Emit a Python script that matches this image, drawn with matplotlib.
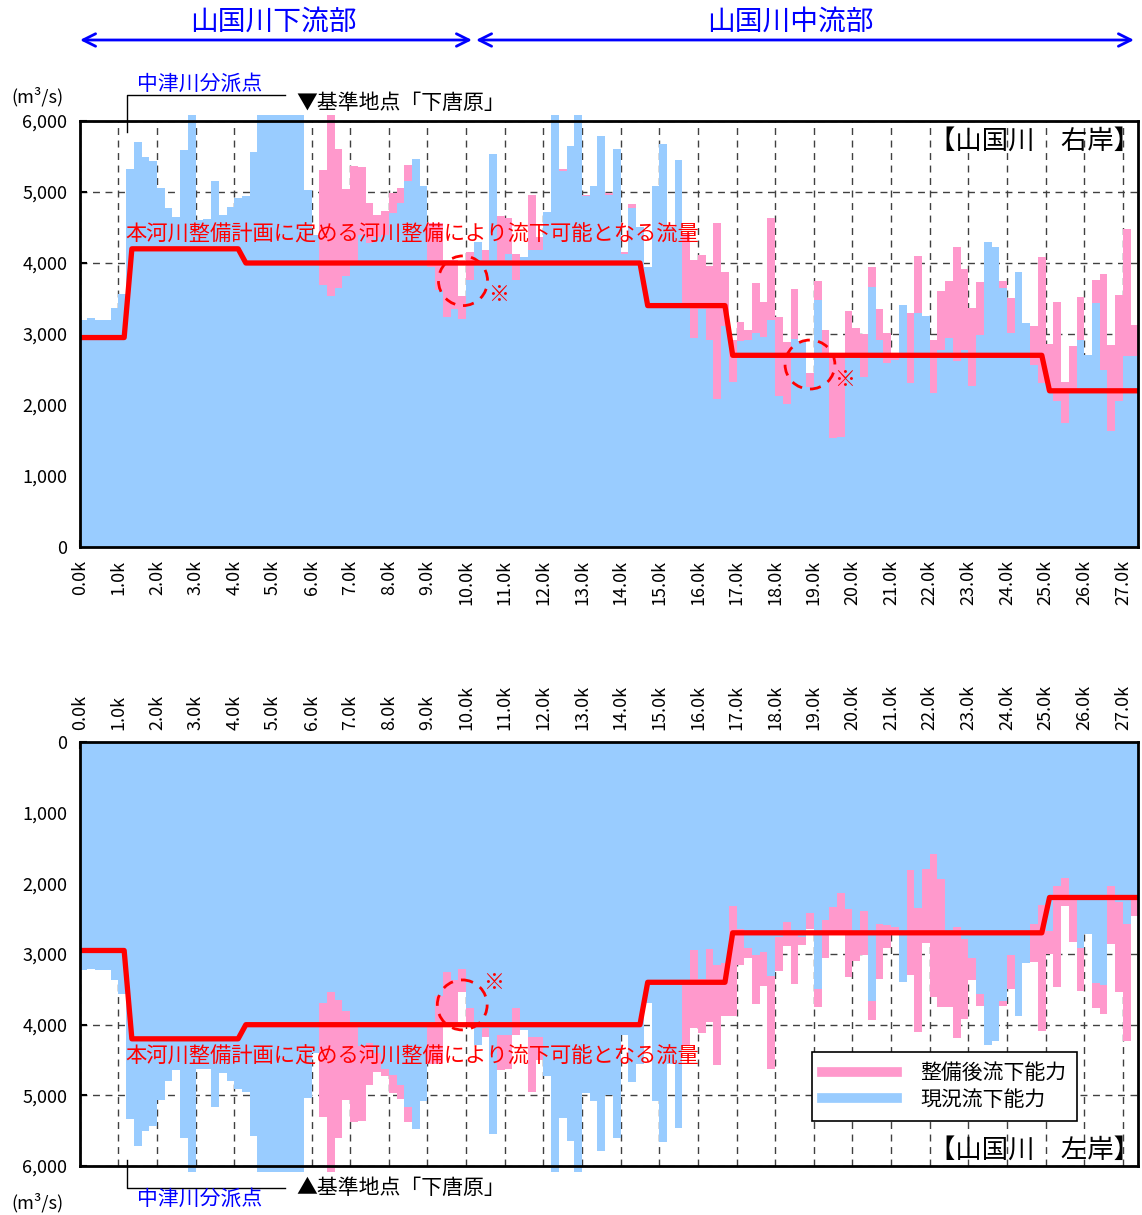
import numpy as np
import matplotlib.pyplot as plt
from matplotlib.lines import Line2D
from matplotlib.patches import Ellipse

plt.rcParams['font.family'] = ['Noto Sans CJK JP', 'DejaVu Sans']

BLUE = '#99CCFF'
PINK = '#FF99CC'
NAVY = '#0000FF'

# distance (km), one section every 0.2k
dist = np.round(np.arange(137) * 0.2, 1)

# right bank: present capacity / capacity after works (m3/s)
right_now = [3200, 3230, 3200, 3200, 3360, 3560, 5320, 5700, 5490, 5440,
             5060, 4770, 4650, 5590, 6080, 4600, 4620, 5150, 4680, 4790,
             4910, 4940, 5560, 6080, 6080, 6080, 6080, 6080, 6080, 5030,
             4400, 3690, 3530, 3650, 3810, 4000, 4400, 4280, 4370, 4400,
             4700, 4840, 5150, 5470, 5080, 3950, 3620, 3240, 3350, 3210,
             3760, 4290, 4040, 5540, 4000, 4130, 3760, 4090, 4180, 4180,
             4720, 6080, 5300, 5650, 6080, 4940, 5080, 5790, 4960, 5610,
             4130, 4770, 4510, 3950, 5080, 5680, 4510, 5450, 3400, 2950,
             3350, 2920, 2090, 3110, 2330, 2900, 2920, 3010, 2960, 3200,
             2120, 2020, 2930, 2900, 2250, 3480, 2700, 1530, 1550, 2720,
             2680, 2400, 3660, 2920, 2590, 2630, 3410, 2310, 3290, 3250,
             2170, 2770, 2950, 2620, 2780, 2270, 2990, 4300, 4230, 3650,
             3020, 3870, 3150, 2560, 2310, 2200, 2050, 1740, 2190, 2920,
             2710, 3430, 2490, 1640, 2050, 2690, 2690]
right_after = [3200, 3230, 3200, 3200, 3360, 3560, 5320, 5700, 5490, 5440,
               5060, 4770, 4650, 5590, 6080, 4600, 4620, 5150, 4680, 4790,
               4910, 4940, 5560, 6080, 6080, 6080, 6080, 6080, 6080, 5030,
               4400, 5310, 6080, 5610, 5040, 5370, 5350, 4840, 4680, 4730,
               4980, 5050, 5380, 5470, 5080, 4560, 4560, 4040, 4040, 3540,
               4150, 4290, 4180, 5540, 4660, 4630, 4130, 4090, 4960, 4370,
               4720, 6080, 5320, 5650, 6080, 4960, 5080, 5790, 4990, 5610,
               4150, 4830, 4510, 3950, 5080, 5680, 4510, 5450, 4420, 4040,
               4110, 3960, 4560, 3870, 2920, 3170, 3060, 3720, 3450, 4630,
               3240, 2890, 3630, 2900, 2450, 3750, 3060, 2700, 2700, 3320,
               3080, 3000, 3950, 3350, 3020, 2700, 3410, 3300, 4100, 3250,
               2920, 3610, 3750, 4220, 3920, 3370, 3730, 4300, 4230, 3750,
               3510, 3870, 3150, 3110, 4090, 2860, 3450, 2330, 2830, 3520,
               2710, 3760, 3850, 2850, 3550, 4480, 3130]

# left bank
left_now = [3230, 3210, 3220, 3220, 3370, 3570, 5330, 5720, 5500, 5430,
            5070, 4800, 4640, 5600, 6080, 4620, 4620, 5160, 4680, 4800,
            4910, 4950, 5580, 6080, 6080, 6080, 6080, 6080, 6080, 5040,
            4400, 3700, 3540, 3650, 3810, 4000, 4300, 4260, 4400, 4620,
            4710, 4850, 5160, 5470, 5080, 4000, 3600, 3260, 3370, 3210,
            3770, 4290, 4040, 5540, 4150, 4150, 3770, 4080, 4170, 4170,
            4720, 6080, 5320, 5650, 6080, 4960, 5080, 5790, 4990, 5610,
            4150, 4810, 4550, 3700, 5080, 5660, 4550, 5460, 3440, 2950,
            3350, 2930, 3160, 3130, 2320, 2650, 2920, 3020, 2970, 3310,
            2760, 2540, 2730, 2760, 2420, 3490, 2520, 2340, 2130, 2370,
            2690, 2390, 3660, 2580, 2590, 2620, 3400, 1810, 2350, 1790,
            1590, 1940, 2680, 2620, 2790, 3060, 3570, 4290, 4230, 3670,
            3020, 3880, 3130, 2580, 2300, 2680, 2040, 1930, 2240, 2920,
            2720, 3410, 3440, 2040, 2260, 2580, 2220]
left_after = [3230, 3210, 3220, 3220, 3370, 3570, 5330, 5720, 5500, 5430,
              5070, 4800, 4640, 5600, 6080, 4620, 4620, 5160, 4680, 4800,
              4910, 4950, 5580, 6080, 6080, 6080, 6080, 6080, 6080, 5040,
              4400, 5300, 6080, 5600, 5060, 5370, 5360, 4850, 4670, 4720,
              4970, 5050, 5370, 5470, 5080, 4550, 4550, 4000, 4000, 3540,
              3960, 4290, 4180, 5540, 4640, 4630, 4150, 4080, 4950, 4500,
              4720, 6080, 5320, 5650, 6080, 4960, 5080, 5790, 4990, 5610,
              4150, 4810, 4550, 3700, 5080, 5660, 4550, 5460, 4290, 4050,
              4120, 3960, 4570, 3870, 3870, 3160, 3050, 3710, 3450, 4630,
              3240, 2880, 3430, 2870, 2650, 3750, 3050, 2690, 2690, 3320,
              3100, 3020, 3940, 3350, 2920, 2700, 3400, 3290, 4100, 2850,
              3610, 3750, 3750, 4190, 3920, 3370, 3730, 4290, 4230, 3730,
              3500, 3880, 3130, 3120, 4090, 3000, 3460, 2320, 2830, 3530,
              2720, 3760, 3850, 2860, 3540, 4230, 2460]

# planned flow (red line)
plan_x = [0.0, 1.15, 1.35, 4.1, 4.3, 14.5, 14.7, 16.7, 16.9, 24.9, 25.1, 27.35]
plan_q = [2950, 2950, 4200, 4200, 4000, 4000, 3400, 3400, 2700, 2700, 2200, 2200]

km_ticks = list(range(28))
km_labels = [f'{k}.0k' for k in km_ticks]
q_ticks = [0, 1000, 2000, 3000, 4000, 5000, 6000]
q_labels = ['0', '1,000', '2,000', '3,000', '4,000', '5,000', '6,000']

fig = plt.figure(figsize=(11.42, 12.15), dpi=100)
ax1 = fig.add_axes([0.0698, 0.5498, 0.9267, 0.3506])
ax2 = fig.add_axes([0.0698, 0.0403, 0.9267, 0.349])


def draw_panel(ax, now, after, flip):
    ax.bar(dist, after, width=0.2, align='edge', color=PINK, lw=0, zorder=2, clip_on=False)
    ax.bar(dist, now, width=0.2, align='edge', color=BLUE, lw=0, zorder=3, clip_on=False)
    ax.plot(plan_x, plan_q, color='red', lw=3.8, zorder=5)
    ax.set_xlim(0, 27.39)
    if flip:
        ax.set_ylim(6000, 0)
        ax.xaxis.tick_top()
    else:
        ax.set_ylim(0, 6000)
    ax.set_xticks(km_ticks)
    ax.set_xticklabels(km_labels, rotation=90, fontsize=13)
    ax.set_yticks(q_ticks)
    ax.set_yticklabels(q_labels, fontsize=13)
    ax.tick_params(direction='in', length=5, width=1.5, pad=9)
    ax.grid(True, linestyle=(0, (5, 4)), color='0.25', lw=1)
    ax.set_axisbelow(True)
    for s in ax.spines.values():
        s.set_linewidth(2)
        s.set_zorder(6)


draw_panel(ax1, right_now, right_after, False)
draw_panel(ax2, left_now, left_after, True)

# dashed circles with ※
for ax, cx, cy, w, h, mx, my in [(ax1, 9.92, 3750, 1.27, 700, 10.83, 3550),
                                 (ax1, 18.9, 2570, 1.29, 690, 19.8, 2350),
                                 (ax2, 9.9, 3720, 1.29, 707, 10.7, 3410)]:
    ax.add_patch(Ellipse((cx, cy), w, h, fill=False, ec='red', lw=2,
                         ls=(0, (4, 3)), zorder=7))
    ax.text(mx, my, '※', color='red', fontsize=15, ha='center', va='center', zorder=7)

handles = [Line2D([], [], color=PINK, lw=7), Line2D([], [], color=BLUE, lw=7)]
leg = ax2.legend(handles, ['整備後流下能力', '現況流下能力'], loc='upper left',
                 bbox_to_anchor=(812 / 1142, 1 - 1052 / 1215), bbox_transform=fig.transFigure,
                 borderaxespad=0, fontsize=15, handlelength=3.6, handletextpad=1.1,
                 labelspacing=0.2, borderpad=0.5, fancybox=False, edgecolor='black',
                 framealpha=1)
leg.get_frame().set_linewidth(1.2)
leg.set_zorder(8)

# annotations in pixel coordinates
ov = fig.add_axes([0, 0, 1, 1], zorder=10)
ov.set_xlim(0, 1142)
ov.set_ylim(1215, 0)
ov.axis('off')

ov.text(273, 22, '山国川下流部', color=NAVY, fontsize=20, ha='center', va='center')
ov.text(790, 22, '山国川中流部', color=NAVY, fontsize=20, ha='center', va='center')
for x0, x1 in [(80, 472), (476, 1134)]:
    ov.annotate('', xy=(x0, 40), xytext=(x1, 40),
                arrowprops=dict(arrowstyle='<->,head_length=0.9,head_width=0.45',
                                color=NAVY, lw=2, shrinkA=0, shrinkB=0))

ov.plot([127, 127, 285], [132, 95, 95], color='black', lw=1)
ov.text(200, 84, '中津川分派点', color=NAVY, fontsize=15, ha='center', va='center')
ov.text(296, 103, '▼基準地点「下唐原」', fontsize=15, ha='left', va='center')
ov.text(37, 97, '(m³/s)', fontsize=13, ha='center', va='center')
ov.text(1140, 141, '【山国川　右岸】', fontsize=19, ha='right', va='center')
ov.text(125, 235, '本河川整備計画に定める河川整備により流下可能となる流量',
        color='red', fontsize=15.3, ha='left', va='center')

ov.plot([127, 127, 285], [1160, 1188, 1188], color='black', lw=1)
ov.text(200, 1199, '中津川分派点', color=NAVY, fontsize=15, ha='center', va='center')
ov.text(296, 1188, '▲基準地点「下唐原」', fontsize=15, ha='left', va='center')
ov.text(37, 1203, '(m³/s)', fontsize=13, ha='center', va='center')
ov.text(1140, 1150, '【山国川　左岸】', fontsize=19, ha='right', va='center')
ov.text(125, 1057, '本河川整備計画に定める河川整備により流下可能となる流量',
        color='red', fontsize=15.3, ha='left', va='center')

fig.savefig('out.png', dpi=100)
